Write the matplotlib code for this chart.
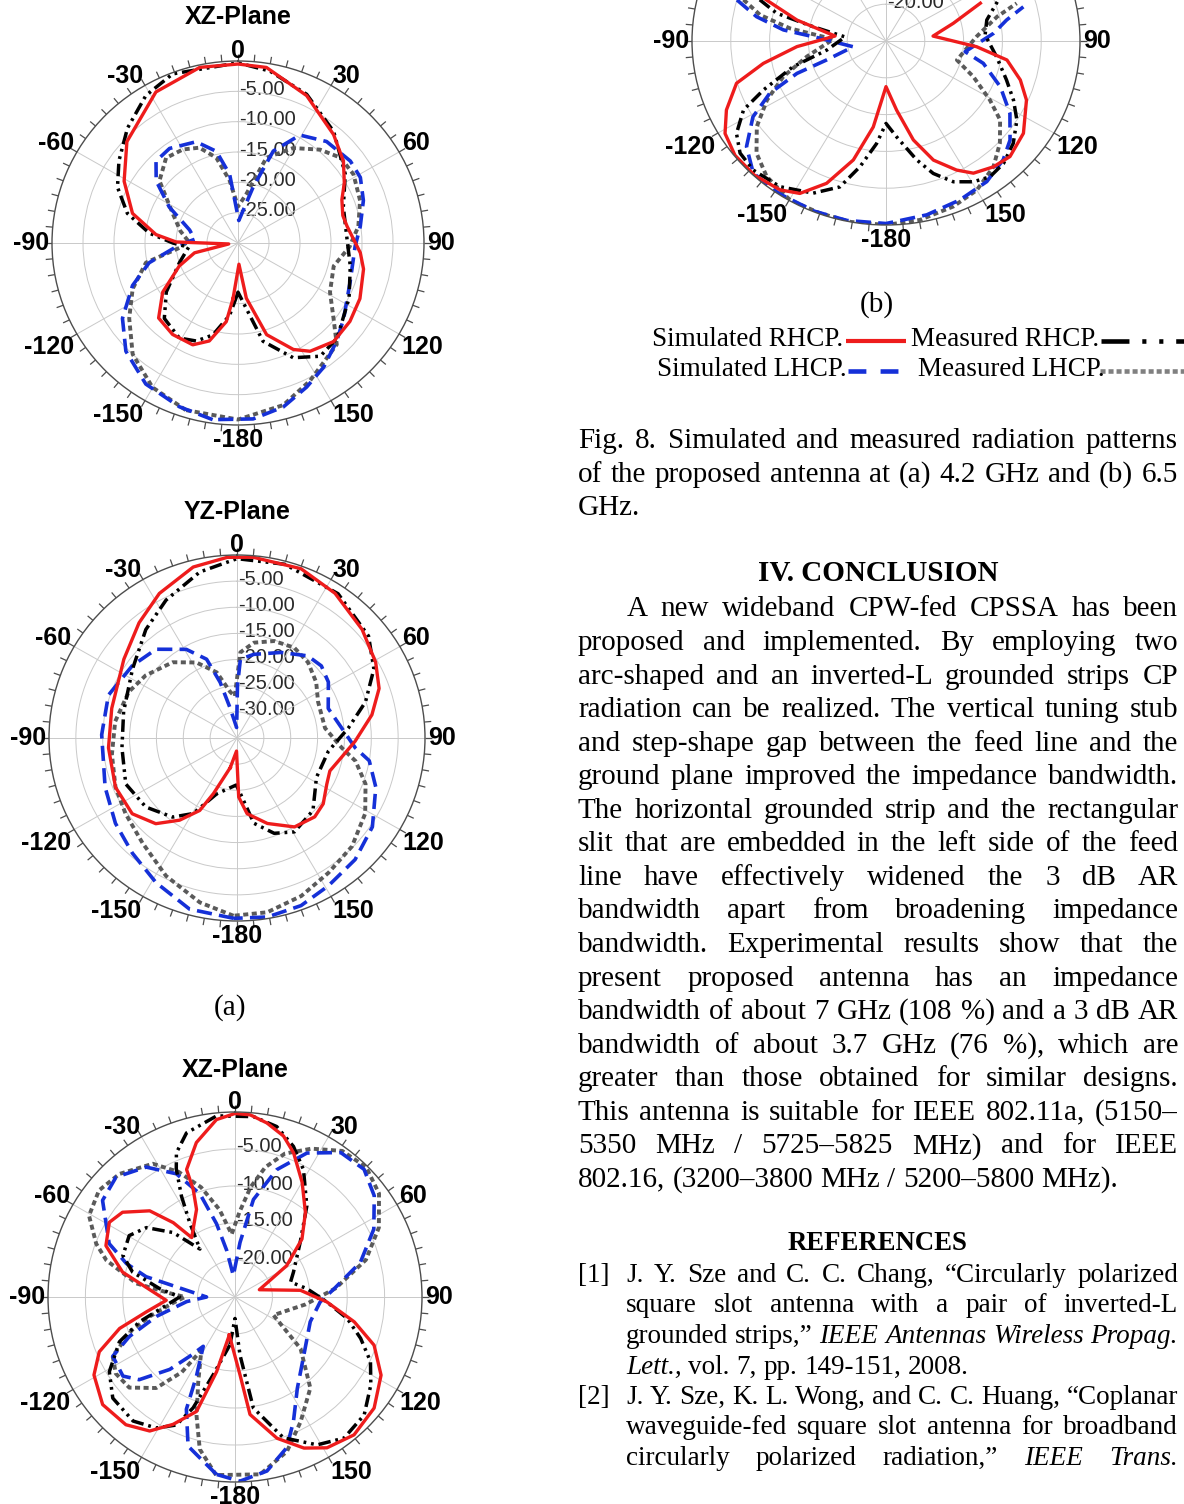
import numpy as np
import matplotlib
matplotlib.use("Agg")
import matplotlib.pyplot as plt
from matplotlib.collections import LineCollection

# ---------------------------------------------------------------
# Radiation patterns: angle (deg, clockwise from 0) and level (dB)
# ---------------------------------------------------------------
# (a) 4.2 GHz, XZ-plane
xz42_sim_rhcp_ang = [-175, -171.7, -164, -156.5, -145, -134, -123.7, -111.8, -103, -96, -89, -84, -74, -61, -47, -28,
                     -12, 0, 9, 24.5, 40.8, 51.6, 60, 67, 75, 81, 94.7, 102, 115, 125.6, 136.5, 146.9, 153, 163,
                     171.6, 177.5]
xz42_sim_rhcp_db = [-20.8, -16.9, -13.2, -11.7, -11.6, -12.2, -15.4, -19.8, -22.8, -28.5, -20, -16.7, -12.3, -9, -5.5,
                    -1.8, -0.4, -0.5, -0.7, -3.3, -6.4, -8.3, -10.2, -11.8, -12.5, -12.2, -10.2, -9.3, -8.3, -7.8,
                    -7.6, -8.7, -10.3, -14.2, -20.8, -26.5]
xz42_meas_rhcp_ang = [-179, -173.5, -165, -157.4, -148.9, -136.3, -124.9, -109, -95, -90, -83.5, -74.7, -64.7, -54.8,
                      -43.3, -31.4, -20.7, 0, 10.3, 24.3, 40, 56.7, 70.7, 88, 101.8, 117, 134.5, 144.6, 154.8, 166,
                      172.9, 180]
xz42_meas_rhcp_db = [-21.4, -18, -14.3, -12.5, -11.7, -12.8, -15.9, -20, -22, -19.5, -15.6, -11.5, -8.5, -6.5, -4,
                     -1.5, -0.2, -0.3, -1.2, -3.1, -6, -9.3, -12, -12.4, -11.5, -9.9, -7.6, -7.1, -9.1, -13.3,
                     -19.1, -21.9]
xz42_sim_lhcp_ang = [-172, -160.7, -147.4, -134.6, -123.7, -112.4, -102.8, -92, -85, -74.6, -61.8, -52.2, -44.4,
                     -35.3, -22, -13, -6.8, 2, 14.8, 20.6, 29.3, 40.5, 53.3, 61.3, 70.9, 82.2, 91.6, 109.7, 126.1,
                     135.5, 146, 155, 164.9, 175.2]
xz42_sim_lhcp_db = [-0.6, -1.4, -2.4, -4.6, -7.6, -11.6, -15.3, -20.5, -23, -21.9, -17.4, -13.3, -11.1, -10.9, -12,
                    -14.5, -18.6, -26.3, -20.5, -13.8, -9.6, -8, -7.4, -7.5, -8.6, -10.1, -11.1, -10.8, -8.9, -7.3,
                    -5.3, -3.8, -2.0, -0.9]
xz42_meas_lhcp_ang = [-163, -149.9, -137.2, -125.3, -114, -102.3, -94.9, -88, -78, -65.2, -51, -39.6, -30, -21.6,
                      -14, -7.5, 0, 9.5, 18.1, 29.6, 40.7, 49.6, 58.7, 70.4, 82, 92, 103.8, 118.6, 128.9, 136.4,
                      152.9, 164.7, 180]
xz42_meas_lhcp_db = [-1.2, -2.5, -5, -8.5, -11.4, -14.8, -20.5, -22, -20.5, -18.4, -13.7, -11.8, -12.2, -13.1,
                     -15.5, -19.6, -24, -21.8, -15.2, -12, -9.7, -8.3, -8.2, -9.1, -10.4, -12, -14.1, -13.1, -10.2,
                     -6.9, -4.5, -2.3, -0.9]

# (a) 4.2 GHz, YZ-plane
yz42_sim_rhcp_ang = [-167.5, -157.6, -153.4, -145.8, -137.3, -126.6, -112.6, -94.5, -76.3, -54.4, -39.6, -27.6,
                     -14, -3, 5, 20.2, 33.4, 48.3, 60.7, 70.3, 80, 91.6, 103, 110, 117.8, 128.1, 136.2, 147.8,
                     160.9, 172.6, 178.4, 182]
yz42_sim_rhcp_db = [-29.2, -23.5, -19.5, -16, -12.7, -10.7, -10.5, -11, -11, -9.1, -6.4, -3.8, -1.3, -0.4, -0.3,
                    -0.5, -1.85, -3.8, -5.4, -6.9, -9.5, -13, -15.6, -16.6, -16.1, -14.6, -14.1, -14.9, -17.7,
                    -20.4, -23.7, -32.5]
yz42_meas_rhcp_ang = [-160.6, -150.5, -141.6, -127.9, -113, -95, -76.6, -55.9, -39.3, -26.6, -12.3, 0, 15, 34.3,
                      51.5, 62.6, 73.9, 84.8, 98.4, 117, 134.4, 149.2, 159.2, 169.1, 178, 181]
yz42_meas_rhcp_db = [-23.7, -18.4, -15.7, -13.5, -12.5, -13.5, -13.3, -11.5, -8.2, -5.5, -2.5, -0.7, -0.6, -1.6,
                     -3.7, -6.3, -10.1, -14.2, -17.8, -18.4, -15.2, -14.1, -15.5, -18.4, -25, -26]
yz42_sim_lhcp_ang = [-179, -164.9, -151.4, -138.5, -125.8, -111, -88.6, -71.1, -54.6, -41.6, -29.1, -20.6, -16.4,
                     -12.5, -2, 0.5, 2.4, 11.1, 26.6, 40, 48.7, 57.8, 71.6, 84.5, 94.9, 100, 110, 124, 136.6, 149,
                     159.6, 170.6]
yz42_sim_lhcp_db = [-0.5, -1.1, -3.5, -5.6, -7.1, -8.7, -9.8, -9.7, -11.1, -12.3, -15.6, -18.9, -23.9, -29.2, -33,
                    -25, -19.9, -18.7, -16.7, -14.5, -14.1, -14.9, -17.1, -15.4, -12.9, -10, -7.5, -4.6, -3, -2,
                    -0.8, -0.3]
yz42_meas_lhcp_ang = [-178.9, -167.6, -153.4, -138.8, -124.9, -112.6, -97.7, -82.1, -66.4, -54.9, -39.6, -27.6,
                      -16.7, -8.1, -3, 2.2, 9.8, 20.5, 31.7, 42.4, 54.1, 65.4, 83.4, 95.5, 101.3, 110.2, 121.2,
                      134.1, 146.6, 158.4, 170.4]
yz42_meas_lhcp_db = [-1, -2.8, -5.5, -8.3, -9.7, -10.5, -11.5, -12.1, -13, -14.2, -16.2, -18.7, -21.9, -26.1, -27,
                     -18.6, -16.5, -15.2, -14.7, -15.4, -16.8, -18.4, -18.5, -15.4, -12.5, -9.5, -7.1, -5.2, -4.1,
                     -2.5, -1.2]

# (b) 6.5 GHz, XZ-plane
xz65_sim_rhcp_ang = [-171.6, -166.3, -161.6, -154.3, -147.8, -139.8, -129.4, -119.2, -112.2, -105.4, -99.6, -92.8,
                     -82.7, -77.4, -68.1, -59, -52.7, -44.4, -39.4, -35.8, -23.5, -21, -20.6, -13.9, -5.9, 0, 4.7,
                     10.3, 16.6, 21.9, 30.1, 39.5, 48.8, 58.5, 73.2, 84.1, 93.1, 101.9, 109.3, 118.4, 128.9, 139.5,
                     148.9, 155.7, 163.6, 172.8, 176.3]
xz65_sim_rhcp_db = [-19.8, -14.6, -8.7, -5.9, -3.6, -2.4, -2.1, -3.4, -5.4, -9, -13, -15.8, -12.6, -9.6, -6.4, -5.4,
                    -6.1, -8.7, -12, -15.1, -12.1, -9.4, -6.6, -3.5, -0.9, -0.2, -0.3, -1.1, -2.3, -4, -7.1, -10.2,
                    -13.1, -16.9, -21.6, -16.2, -12.7, -8.7, -5.3, -2.8, -1.1, -0.5, -1.2, -2.6, -5.1, -9, -14.4]
xz65_meas_rhcp_ang = [-174, -164.5, -159.5, -155.6, -149.2, -140.9, -129.9, -121, -111.4, -104.7, -90, -83.7, -76.2,
                      -69.5, -59.6, -51.6, -43.5, -35.9, -31, -27.7, -24.4, -21.9, -16.3, -5.7, 5.8, 13.6, 21, 28,
                      38, 49.8, 66.8, 74.7, 83.4, 93.1, 101, 108.4, 115.7, 123.2, 132.7, 142.6, 151.2, 161.2, 170.7,
                      175.1, 180]
xz65_meas_rhcp_db = [-18.5, -14.1, -9, -6, -4.4, -3.4, -3.7, -5.4, -8.4, -11.8, -17.6, -14.9, -10.9, -9, -8.6,
                     -9.9, -13, -17, -13.2, -9.6, -6, -4, -1.9, -0.4, -0.5, -1.3, -3.2, -5.5, -9.4, -13.6, -16.5,
                     -17.3, -15.3, -12.7, -9.7, -7.3, -4.9, -3.3, -1.5, -1, -2.2, -4.9, -9.8, -17.1, -22.1]
xz65_sim_lhcp_ang = [-174.1, -166.4, -162.7, -156.8, -154.3, -147.5, -143, -138.3, -131.1, -125.5, -116.1, -110.7,
                     -104, -95.5, -90, -80, -77, -72.7, -66.8, -53.6, -44.5, -34.1, -25.2, -18.6, -14, -10, -4.4,
                     5.2, 10.6, 18, 26.3, 35.9, 45, 53.7, 63.7, 74.4, 85.2, 93.4, 108.4, 130.5, 146, 155, 161.2,
                     169.7, 178.5]
xz65_sim_lhcp_db = [-0.9, -3.1, -3.9, -8.5, -13.1, -17.1, -15, -11.9, -8, -6.6, -6.8, -9.9, -14.2, -18.5, -21.2,
                    -17, -12.8, -9.8, -6.7, -3, -2.3, -3.8, -6.6, -10.3, -14.8, -18.6, -22.1, -17.6, -11.6, -6.9,
                    -3.3, -0.9, -0.6, -1.9, -4.3, -7.6, -11.7, -13.6, -14.4, -12.9, -10.1, -6.5, -3.5, -1.1, -0.1]
xz65_meas_lhcp_ang = [-174, -167.1, -162.3, -157, -148, -145, -139.4, -130.9, -123, -116, -108, -103, -96, -90,
                      -86.7, -82.1, -73.9, -68.8, -60.6, -51.6, -42.9, -31.4, -24, -17, -10, -3, 3, 8, 13, 19, 27,
                      36, 45, 54, 64, 74, 85, 96, 101, 115.5, 128.5, 140.7, 152.5, 161.6, 172]
xz65_meas_lhcp_db = [-0.8, -3.9, -8.1, -12.4, -16.5, -12.6, -8.8, -6.3, -6, -6.8, -10.5, -13.3, -16.5, -18.3,
                     -16.3, -11.7, -7.1, -5.1, -2.6, -1.8, -2.3, -3.9, -6.5, -9.5, -13, -16.5, -13.5, -10, -7, -4.5,
                     -2.5, -0.6, -0.2, -1.2, -3.6, -6.8, -11.5, -15.5, -17, -19.3, -13.8, -9.1, -6, -3, -0.8]

# (b) 6.5 GHz, YZ-plane (lower half of the pattern)
yz65_sim_rhcp_ang = [-70.1, -76.1, -84.1, -93.8, -100.9, -106.6, -114.5, -121.2, -128.6, -137.1, -146, -151.8,
                     -158.4, -165.4, -172, -180, 171.7, 165.3, 159.3, 152.6, 147.9, 141, 134.5, 125.3, 113.9, 107,
                     99.4, 93.8, 83.7, 74.5, 67.1]
yz65_sim_rhcp_db = [-8.6, -13.2, -18.4, -13.5, -8.9, -4.9, -2.4, -0.75, -0.1, -0.1, -0.6, -1.5, -4.2, -8.3, -13.2,
                    -18.8, -15.5, -11.1, -7.7, -5.25, -3.8, -3, -2.6, -3.3, -5.2, -6.9, -9.2, -13.3, -18.9, -16,
                    -11.8]
yz65_meas_rhcp_ang = [-71, -75, -78.3, -84, -99.1, -106.3, -112.8, -117, -123.1, -129, -135.7, -145.4, -155.6,
                      -163.3, -168.9, -175, 180, 174, 166.3, 161.3, 155.6, 149.5, 144, 137.7, 130.3, 122.5, 116.1,
                      108.8, 98.5, 86.3, 77.6, 69]
yz65_meas_rhcp_db = [-7.8, -10.4, -15.4, -19.7, -17.3, -12.5, -7.9, -4.4, -2, -0.8, -0.5, -0.95, -2.3, -4.3, -7.6,
                     -11, -13.8, -11.9, -8.4, -6, -4, -2.8, -2.2, -2.5, -3.5, -5, -6.7, -8.6, -10.6, -12.2, -11.7,
                     -9.5]
yz65_sim_lhcp_ang = [-73.8, -78.8, -83.5, -87.5, -100.5, -108.6, -111, -115.4, -121, -128.6, -136.4, -146.4,
                     -158.2, -168.3, 180, 167.5, 156.2, 145.8, 136.9, 130.1, 121.6, 112.9, 103.6, 98.1, 85.7, 79.6,
                     75.3]
yz65_sim_lhcp_db = [-5, -8, -11.7, -16.5, -20.7, -16.9, -12.7, -8.4, -5, -2, -0.2, -0.1, -0.1, -0.1, -0.2, -0.8,
                    -1.4, -1.9, -2.9, -4.1, -6.25, -9, -12.1, -14.7, -11.1, -9.2, -6.7]
yz65_meas_lhcp_ang = [-73, -77.7, -82.1, -88, -101.7, -110.1, -117.6, -124.9, -132.4, -140.2, -150.2, -160, -169.5,
                      180, 169.8, 158.9, 150, 141, 133.4, 126.1, 120.9, 113.3, 105.8, 87, 77, 73.1]
yz65_meas_lhcp_db = [-5.8, -8.4, -12.5, -18.2, -14.6, -10.9, -7.7, -4.7, -2.4, -1, -0.1, -0.1, 0, 0, -0.3, -0.9,
                     -1.6, -3, -4.8, -6.8, -9.4, -12.75, -15.5, -13.3, -10.3, -7.4]

angle_ticks = [0, 30, 60, 90, 120, 150, 180, -150, -120, -90, -60, -30]
angle_tick_labels = ["0", "30", "60", "90", "120", "150", "-180", "-150", "-120", "-90", "-60", "-30"]

legend_labels = ["Simulated RHCP.", "Measured RHCP.", "Simulated LHCP.", "Measured LHCP."]

caption_lines = [
    "Fig. 8. Simulated and measured radiation patterns",
    "of the proposed antenna at (a) 4.2 GHz and (b) 6.5",
    "GHz.",
]
conclusion_lines = [
    "A new wideband CPW-fed CPSSA has been",
    "proposed and implemented. By employing two",
    "arc-shaped and an inverted-L grounded strips CP",
    "radiation can be realized. The vertical tuning stub",
    "and step-shape gap between the feed line and the",
    "ground plane improved the impedance bandwidth.",
    "The horizontal grounded strip and the rectangular",
    "slit that are embedded in the left side of the feed",
    "line have effectively widened the 3 dB AR",
    "bandwidth apart from broadening impedance",
    "bandwidth. Experimental results show that the",
    "present proposed antenna has an impedance",
    "bandwidth of about 7 GHz (108 %) and a 3 dB AR",
    "bandwidth of about 3.7 GHz (76 %), which are",
    "greater than those obtained for similar designs.",
    "This antenna is suitable for IEEE 802.11a, (5150–",
    "5350 MHz / 5725–5825 MHz) and for IEEE",
    "802.16, (3200–3800 MHz / 5200–5800 MHz).",
]
# words starting with "_" are set in italics
reference_lines = [
    ("[1]", "J. Y. Sze and C. C. Chang, “Circularly polarized", True),
    ("", "square slot antenna with a pair of inverted-L", True),
    ("", "grounded strips,” _IEEE _Antennas _Wireless _Propag.", True),
    ("", "_Lett., vol. 7, pp. 149-151, 2008.", False),
    ("[2]", "J. Y. Sze, K. L. Wong, and C. C. Huang, “Coplanar", True),
    ("", "waveguide-fed square slot antenna for broadband", True),
    ("", "circularly polarized radiation,” _IEEE _Trans.", True),
]

# ---------------------------------------------------------------
W, H = 1184, 1504
fig = plt.figure(figsize=(W / 100, H / 100), dpi=100)
page = fig.add_axes([0, 0, 1, 1])
page.set_xlim(0, W)
page.set_ylim(H, 0)
page.axis("off")
renderer = fig.canvas.get_renderer()

SERIF = ["Liberation Serif", "DejaVu Serif"]
SANS = ["Liberation Sans", "DejaVu Sans"]
RED, BLUE, GREY = "#ee1c1c", "#1530d8", "#5a5a5a"

LINE_STYLES = {
    "meas_lhcp": dict(color=GREY, lw=2.8, dashes=(1.3, 0.9)),
    "sim_lhcp": dict(color=BLUE, lw=2.6, dashes=(4.2, 2.0)),
    "meas_rhcp": dict(color="black", lw=2.5, dashes=(3.6, 1.4, 0.8, 1.4, 0.8, 1.4)),
    "sim_rhcp": dict(color=RED, lw=2.4),
}


def pattern_panel(cx, cy, rx, ry, rmin, curves, title=None, closed=True):
    ax = fig.add_axes([(cx - rx) / W, 1 - (cy + ry) / H, 2 * rx / W, 2 * ry / H], projection="polar")
    ax.set_aspect("auto")
    ax.set_facecolor("none")
    ax.set_theta_zero_location("N")
    ax.set_theta_direction(-1)
    ax.set_ylim(rmin, 0)
    rings = np.arange(rmin + 5, 0, 5)
    ax.set_yticks(rings)
    ax.set_yticklabels([])
    ax.set_xticks(np.deg2rad(np.arange(0, 360, 30)))
    ax.set_xticklabels([])
    ax.tick_params(length=0)
    ax.grid(True, color="#c9c9c9", lw=0.7)
    ax.spines["polar"].set_color("#4d4d4d")
    ax.spines["polar"].set_linewidth(1.0)

    for key in ["meas_lhcp", "sim_lhcp", "meas_rhcp", "sim_rhcp"]:
        ang, db = curves[key]
        th = np.unwrap(np.deg2rad(ang))
        r = np.asarray(db, float)
        if closed:
            turns = np.round((th[-1] - th[0]) / (2 * np.pi))
            th = np.append(th, th[0] + 2 * np.pi * turns)
            r = np.append(r, r[0])
        ax.plot(th, r, **LINE_STYLES[key])

    # outward tick marks on the rim
    segs = []
    for a in np.deg2rad(np.arange(0, 360, 5)):
        s, c = np.sin(a), np.cos(a)
        segs.append([(cx + rx * s, cy - ry * c), (cx + (rx + 7) * s, cy - (ry + 7) * c)])
    page.add_collection(LineCollection(segs, colors="#4d4d4d", linewidths=0.9))

    for deg, lab in zip(angle_ticks, angle_tick_labels):
        a = np.deg2rad(deg)
        s, c = np.sin(a), np.cos(a)
        ha = "left" if s > 0.2 else ("right" if s < -0.2 else "center")
        va = "baseline" if c > 0.2 else ("top" if c < -0.2 else "center")
        page.text(cx + (rx + 3) * s, cy - (ry + 3) * c, lab, ha=ha, va=va,
                  fontsize=18, fontweight="bold", family=SANS)

    for v in rings:
        page.text(cx + 1, cy - ry * (v - rmin) / (-rmin) - 2, f"{v:.2f}", ha="left", va="center",
                  fontsize=14.5, color="#2a2a2a", family=SANS)
    if title:
        page.text(cx, title[1], title[0], ha="center", va="center", fontsize=18,
                  fontweight="bold", family=SANS)


pattern_panel(238, 243, 186, 182, -30, {
    "sim_rhcp": (xz42_sim_rhcp_ang, xz42_sim_rhcp_db),
    "meas_rhcp": (xz42_meas_rhcp_ang, xz42_meas_rhcp_db),
    "sim_lhcp": (xz42_sim_lhcp_ang, xz42_sim_lhcp_db),
    "meas_lhcp": (xz42_meas_lhcp_ang, xz42_meas_lhcp_db)}, title=("XZ-Plane", 17))
pattern_panel(237, 738, 188, 183, -35, {
    "sim_rhcp": (yz42_sim_rhcp_ang, yz42_sim_rhcp_db),
    "meas_rhcp": (yz42_meas_rhcp_ang, yz42_meas_rhcp_db),
    "sim_lhcp": (yz42_sim_lhcp_ang, yz42_sim_lhcp_db),
    "meas_lhcp": (yz42_meas_lhcp_ang, yz42_meas_lhcp_db)}, title=("YZ-Plane", 512))
pattern_panel(235, 1297, 187, 185, -25, {
    "sim_rhcp": (xz65_sim_rhcp_ang, xz65_sim_rhcp_db),
    "meas_rhcp": (xz65_meas_rhcp_ang, xz65_meas_rhcp_db),
    "sim_lhcp": (xz65_sim_lhcp_ang, xz65_sim_lhcp_db),
    "meas_lhcp": (xz65_meas_lhcp_ang, xz65_meas_lhcp_db)}, title=("XZ-Plane", 1070))
pattern_panel(886, 41, 194, 184, -25, {
    "sim_rhcp": (yz65_sim_rhcp_ang, yz65_sim_rhcp_db),
    "meas_rhcp": (yz65_meas_rhcp_ang, yz65_meas_rhcp_db),
    "sim_lhcp": (yz65_sim_lhcp_ang, yz65_sim_lhcp_db),
    "meas_lhcp": (yz65_meas_lhcp_ang, yz65_meas_lhcp_db)}, closed=False)

page.text(230, 1008, "(a)", ha="center", va="center", fontsize=21, family=SERIF)
page.text(877, 305, "(b)", ha="center", va="center", fontsize=21, family=SERIF)


# ---------------------------------------------------------------
# text column
def word_width(txt, size, **kw):
    t = page.text(0, 0, txt, fontsize=size, family=SERIF, **kw)
    w = t.get_window_extent(renderer).width
    t.remove()
    return w


def set_line(line, x0, x1, y, size, justify=True, **kw):
    words = []
    for w in line.split(" "):
        words.append((w[1:], "italic") if w.startswith("_") else (w, "normal"))
    widths = [word_width(w, size, style=st, **kw) for w, st in words]
    if justify and len(words) > 1:
        gap = (x1 - x0 - sum(widths)) / (len(words) - 1)
    else:
        gap = 0.25 * size * 100 / 72
    x = x0
    for (w, st), wd in zip(words, widths):
        page.text(x, y, w, fontsize=size, family=SERIF, style=st, ha="left", va="baseline", **kw)
        x += wd + gap


# legend
LEG = 19.5
page.text(652, 346, legend_labels[0], fontsize=LEG, family=SERIF, va="baseline")
page.plot([846, 906], [341, 341], color=RED, lw=3.0, solid_capstyle="butt")
page.text(911, 346, legend_labels[1], fontsize=LEG, family=SERIF, va="baseline")
page.plot([1101, 1200], [341, 341], color="black", lw=3.3, dashes=(6.1, 2.8, 0.9, 2.8, 0.9, 2.8))
page.text(657, 376, legend_labels[2], fontsize=LEG, family=SERIF, va="baseline")
page.plot([848, 900], [371, 371], color=BLUE, lw=3.3, dashes=(3.9, 3.1))
page.text(918, 376, legend_labels[3], fontsize=LEG, family=SERIF, va="baseline")
page.plot([1100, 1200], [371, 371], color="#808080", lw=3.3, dashes=(1.1, 0.65))

BODY = 21
# caption
for i, line in enumerate(caption_lines):
    set_line(line, 578, 1178, 448 + 33.5 * i, BODY, justify=i < len(caption_lines) - 1)

# conclusion
page.text(878, 581, "IV. CONCLUSION", ha="center", va="baseline", fontsize=BODY,
          fontweight="bold", family=SERIF)
for i, line in enumerate(conclusion_lines):
    x0 = 627 if i == 0 else 578
    set_line(line, x0, 1178, 616.5 + 33.55 * i, BODY, justify=i < len(conclusion_lines) - 1)

# references
REF = 19.5
page.text(878, 1250, "REFERENCES", ha="center", va="baseline", fontsize=19.3,
          fontweight="bold", family=SERIF)
for i, (tag, line, just) in enumerate(reference_lines):
    y = 1282 + 30.5 * i
    if tag:
        page.text(578, y, tag, fontsize=REF, family=SERIF, va="baseline")
    set_line(line, 626, 1178, y, REF, justify=just)

fig.savefig("out.png", dpi=100)
